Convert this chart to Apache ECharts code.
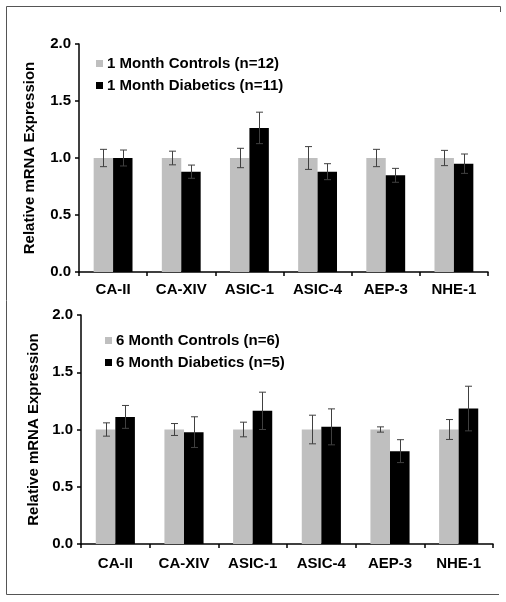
<!DOCTYPE html>
<html>
<head>
<meta charset="utf-8">
<script src="https://cdn.jsdelivr.net/npm/echarts@6/dist/echarts.min.js"></script>
<style>
html,body{margin:0;padding:0;background:#fff;}
#chart{width:506px;height:602px;}
</style>
</head>
<body>
<div id="chart"></div>
<script>
// ---- data ----
var categories = ['CA-II', 'CA-XIV', 'ASIC-1', 'ASIC-4', 'AEP-3', 'NHE-1'];
var yTicks = [0, 0.5, 1.0, 1.5, 2.0];

var ctrlName1 = '1 Month Controls (n=12)';
var diabName1 = '1 Month Diabetics (n=11)';
var ctrl1 = [1.0, 1.0, 1.0, 1.0, 1.0, 1.0];
var ctrlErr1 = [0.076, 0.06, 0.085, 0.10, 0.076, 0.067];
var diab1 = [1.0, 0.88, 1.264, 0.88, 0.848, 0.95];
var diabErr1 = [0.07, 0.058, 0.138, 0.07, 0.061, 0.085];

var ctrlName6 = '6 Month Controls (n=6)';
var diabName6 = '6 Month Diabetics (n=5)';
var ctrl6 = [1.0, 1.0, 1.0, 1.0, 1.0, 1.0];
var ctrlErr6 = [0.058, 0.052, 0.064, 0.125, 0.023, 0.087];
var diab6 = [1.11, 0.977, 1.163, 1.023, 0.811, 1.183];
var diabErr6 = [0.10, 0.134, 0.163, 0.157, 0.10, 0.195];

// ---- styling ----
var FONT = '"Liberation Sans", Arial, sans-serif';
var GRAY = '#bfbfbf';
var BLACK = '#000000';
var ERR = '#404040';
var GAP = 0.43;

function errData(vals, errs) {
  return vals.map(function (v, i) { return [i, v, errs[i]]; });
}

function errSeries(vals, errs, side, xi, yi) {
  return {
    type: 'custom',
    xAxisIndex: xi, yAxisIndex: yi,
    z: 5,
    silent: true,
    data: errData(vals, errs),
    renderItem: function (params, api) {
      var i = api.value(0), v = api.value(1), e = api.value(2);
      var band = api.size([1, 0])[0];
      var bw = band * (1 - GAP) / 2;
      var c = api.coord([i, v]);
      var x = Math.round(c[0] + side * bw / 2) + 0.5;
      var top = api.coord([i, v + e])[1];
      var bot = api.coord([i, v - e])[1];
      var cap = 3.5;
      var st = { stroke: ERR, lineWidth: 1 };
      return {
        type: 'group',
        children: [
          { type: 'line', shape: { x1: x, y1: top, x2: x, y2: bot }, style: st },
          { type: 'line', shape: { x1: x - cap, y1: top, x2: x + cap, y2: top }, style: st },
          { type: 'line', shape: { x1: x - cap, y1: bot, x2: x + cap, y2: bot }, style: st }
        ]
      };
    }
  };
}

function xAxis(gi, margin) {
  return {
    type: 'category', gridIndex: gi, data: categories,
    axisLine: { lineStyle: { color: '#000', width: 1.5 } },
    axisTick: { show: true, length: 4, lineStyle: { color: '#000', width: 1.5 } },
    axisLabel: { color: '#000', fontFamily: FONT, fontWeight: 'bold', fontSize: 15, margin: margin }
  };
}
function yAxis(gi, gap) {
  return {
    type: 'value', gridIndex: gi, min: yTicks[0], max: yTicks[yTicks.length - 1], interval: 0.5,
    name: 'Relative mRNA Expression', nameLocation: 'middle', nameRotate: 90, nameGap: gap,
    nameTextStyle: { color: '#000', fontFamily: FONT, fontWeight: 'bold', fontSize: 15 },
    splitLine: { show: false },
    axisLine: { show: true, lineStyle: { color: '#000', width: 1.5 } },
    axisTick: { show: true, length: 4, lineStyle: { color: '#000', width: 1.5 } },
    axisLabel: { color: '#000', fontFamily: FONT, fontWeight: 'bold', fontSize: 15, margin: 8,
      formatter: function (v) { return v.toFixed(1); } }
  };
}
function barSeries(name, vals, color, xi, yi) {
  return {
    name: name, type: 'bar', xAxisIndex: xi, yAxisIndex: yi,
    data: vals, barGap: '0%', barCategoryGap: (GAP * 100) + '%',
    itemStyle: { color: color }, silent: true
  };
}
function legend(names, left, top) {
  return {
    data: names, orient: 'vertical', left: left, top: top,
    itemWidth: 7, itemHeight: 7, itemGap: 7, icon: 'rect',
    textStyle: { color: '#000', fontFamily: FONT, fontWeight: 'bold', fontSize: 15, padding: [0, 0, 0, -1] },
    selectedMode: false
  };
}

var chart = echarts.init(document.getElementById('chart'), null, { renderer: 'canvas' });
chart.setOption({
  backgroundColor: '#fff',
  animation: false,
  grid: [
    { left: 79, top: 44, right: 18, height: 228 },
    { left: 81, top: 315, right: 13, height: 229 }
  ],
  xAxis: [xAxis(0, 10), xAxis(1, 12)],
  yAxis: [yAxis(0, 42), yAxis(1, 40)],
  legend: [
    legend([ctrlName1, diabName1], 91, 51),
    legend([ctrlName6, diabName6], 100, 328)
  ],
  graphic: [
    { type: 'polyline', shape: { points: [[500.5, 6.5], [6.5, 6.5], [6.5, 594.5], [499, 594.5]] },
      style: { stroke: '#555', lineWidth: 1, fill: null } },
    { type: 'line', shape: { x1: 500.5, y1: 6.5, x2: 500.5, y2: 12 }, style: { stroke: '#555', lineWidth: 1 } }
  ],
  series: [
    barSeries(ctrlName1, ctrl1, GRAY, 0, 0),
    barSeries(diabName1, diab1, BLACK, 0, 0),
    errSeries(ctrl1, ctrlErr1, -1, 0, 0),
    errSeries(diab1, diabErr1, 1, 0, 0),
    barSeries(ctrlName6, ctrl6, GRAY, 1, 1),
    barSeries(diabName6, diab6, BLACK, 1, 1),
    errSeries(ctrl6, ctrlErr6, -1, 1, 1),
    errSeries(diab6, diabErr6, 1, 1, 1)
  ]
});
</script>
</body>
</html>
